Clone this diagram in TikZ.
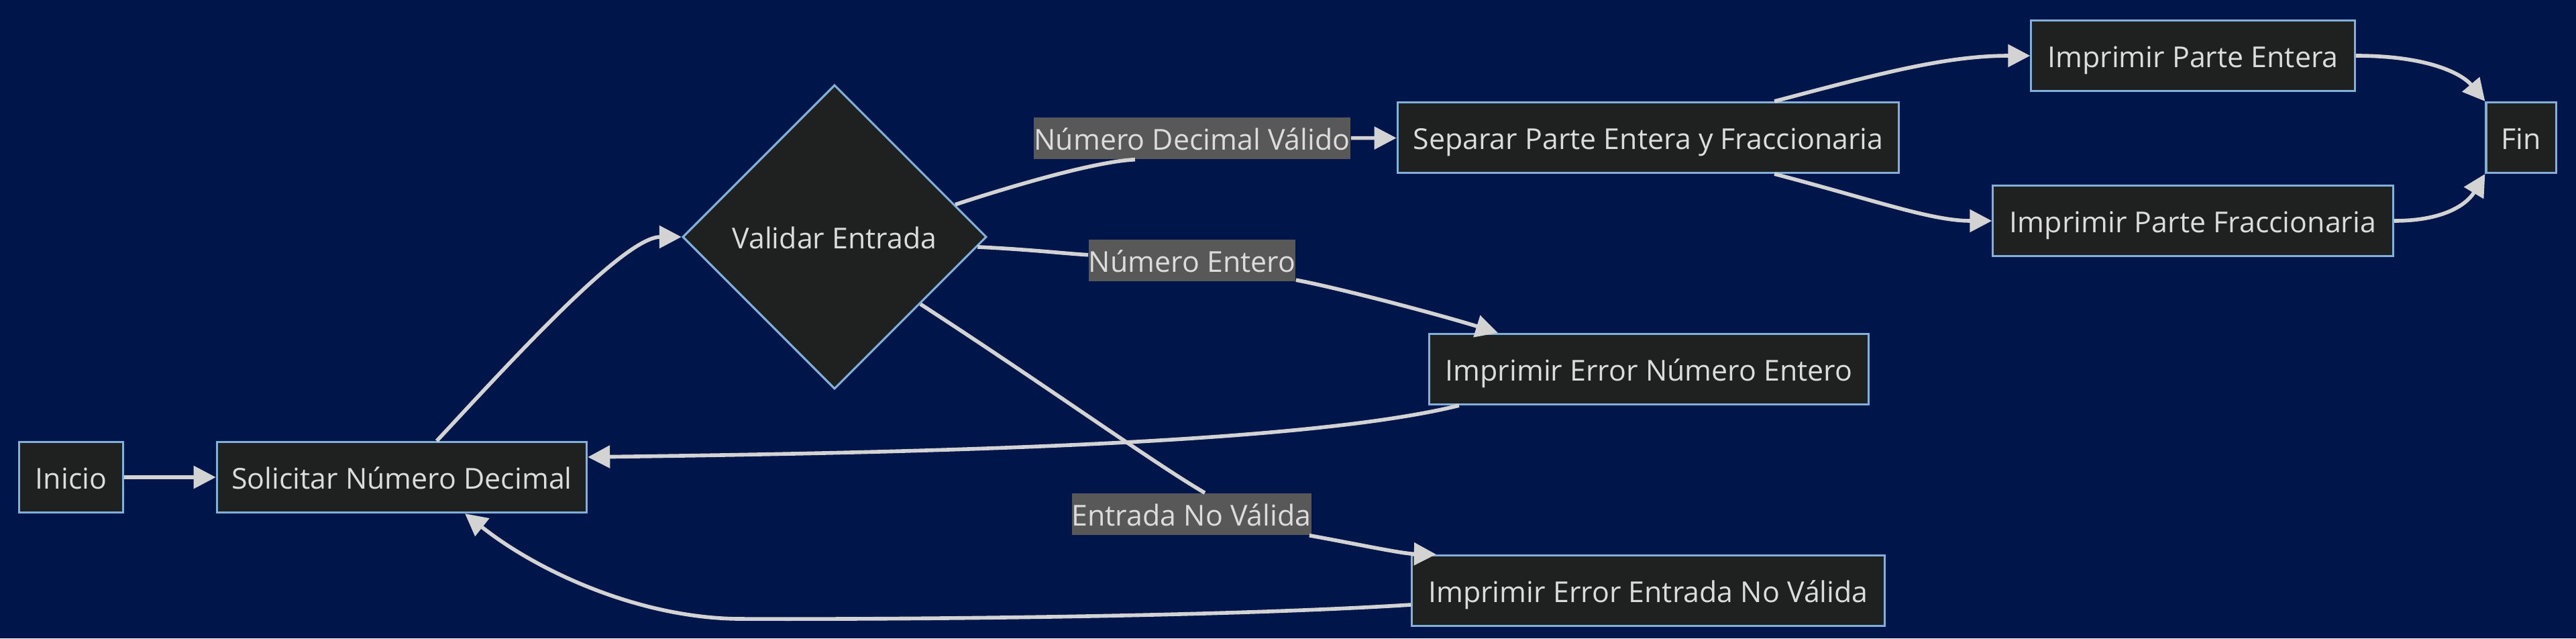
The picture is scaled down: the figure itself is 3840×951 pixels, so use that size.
\documentclass[tikz,border=0pt]{standalone}
\usepackage{fontspec}
\setmainfont{Open Sans}
\usetikzlibrary{shapes.geometric, arrows.meta, positioning}
\definecolor{bgnavy}{RGB}{0, 21, 74}
\definecolor{nodefill}{RGB}{31, 32, 32}
\definecolor{nodeborder}{RGB}{129, 177, 219}
\definecolor{linegray}{RGB}{211, 211, 211}
\definecolor{labelfill}{RGB}{88, 88, 88}
\definecolor{textgray}{RGB}{220, 220, 220}

\begin{document}
\begin{tikzpicture}[
    x=0.01cm, y=-0.01cm,
    every node/.style={font=\fontsize{12.2}{14}\selectfont, text=textgray, text height=0.43cm, text depth=0.08cm},
    box/.style={rectangle, draw=nodeborder, line width=0.9pt, fill=nodefill, minimum height=1.05cm, inner sep=0pt},
    decision/.style={diamond, aspect=1, draw=nodeborder, line width=0.9pt, fill=nodefill, minimum width=4.53cm, minimum height=4.53cm, inner sep=0pt},
    edgelabel/.style={rectangle, fill=labelfill, minimum height=0.62cm, inner sep=0pt},
    link/.style={line width=1.6pt, draw=linegray},
    arrow/.style={link, -{Triangle[length=0.33cm, width=0.33cm]}}
]
% Background
\fill[bgnavy] (0,0) rectangle (3840,951);
\useasboundingbox (0,0) rectangle (3840,951);

% Steps
\node[box, minimum width=1.55cm] (inicio) at (106,711) {Inicio};
\node[box, minimum width=5.51cm] (solicitar) at (599,711) {Solicitar Número Decimal};
\node[decision] (validar) at (1244,353) {Validar Entrada};
\node[box, minimum width=7.47cm] (separar) at (2457,205) {Separar Parte Entera y Fraccionaria};
\node[box, minimum width=4.82cm] (parteentera) at (3269,83) {Imprimir Parte Entera};
\node[box, minimum width=5.96cm] (partefrac) at (3269,329) {Imprimir Parte Fraccionaria};
\node[box, minimum width=1.04cm] (fin) at (3758,205) {Fin};
\node[box, minimum width=6.54cm] (errentero) at (2458,550) {Imprimir Error Número Entero};
\node[box, minimum width=7.04cm] (errinval) at (2457,880) {Imprimir Error Entrada No Válida};

% Edge labels
\node[edgelabel, minimum width=4.72cm] (lblvalido) at (1777,206) {Número Decimal Válido};
\node[edgelabel, minimum width=3.07cm] (lblentero) at (1777,388) {Número Entero};
\node[edgelabel, minimum width=3.55cm] (lblinval) at (1776,766) {Entrada No Válida};

% Main flow
\draw[arrow] (inicio) -- (solicitar);
\draw[arrow] ([xshift=0.52cm]solicitar.north) .. controls (760,540) and (930,353) .. (validar.west);

% Branches of the decision
\draw[link] (validar.15) .. controls (1530,270) and (1640,240) .. ([xshift=-0.85cm]lblvalido.south);
\draw[arrow] (lblvalido) -- (separar);
\draw[link] (validar.-4) .. controls (1540,372) and (1590,378) .. (lblentero);
\draw[arrow] (lblentero) .. controls (2000,430) and (2150,470) .. ([xshift=-2.25cm]errentero.north);
\draw[link] (validar.-38) .. controls (1560,575) and (1720,690) .. ([xshift=0.2cm]lblinval.north);
\draw[arrow] (lblinval) .. controls (2020,810) and (2090,825) .. ([xshift=-3.16cm]errinval.north);

% Back to input
\draw[arrow] ([xshift=-2.83cm]errentero.south) .. controls (1950,660) and (1400,674) .. ([yshift=0.3cm]solicitar.east);
\draw[arrow] ([yshift=-0.21cm]errinval.west) .. controls (1800,920) and (1300,923) .. (1100,922)
    .. controls (950,920) and (800,850) .. ([xshift=0.94cm]solicitar.south);

% Output parts
\draw[arrow] ([xshift=1.88cm]separar.north) .. controls (2800,110) and (2900,83) .. (parteentera.west);
\draw[arrow] ([xshift=1.88cm]separar.south) .. controls (2800,300) and (2880,329) .. (partefrac.west);
\draw[arrow] (parteentera.east) .. controls (3620,83) and (3670,110) .. (fin.north west);
\draw[arrow] (partefrac.east) .. controls (3650,329) and (3680,300) .. (fin.south west);
\end{tikzpicture}
\end{document}
